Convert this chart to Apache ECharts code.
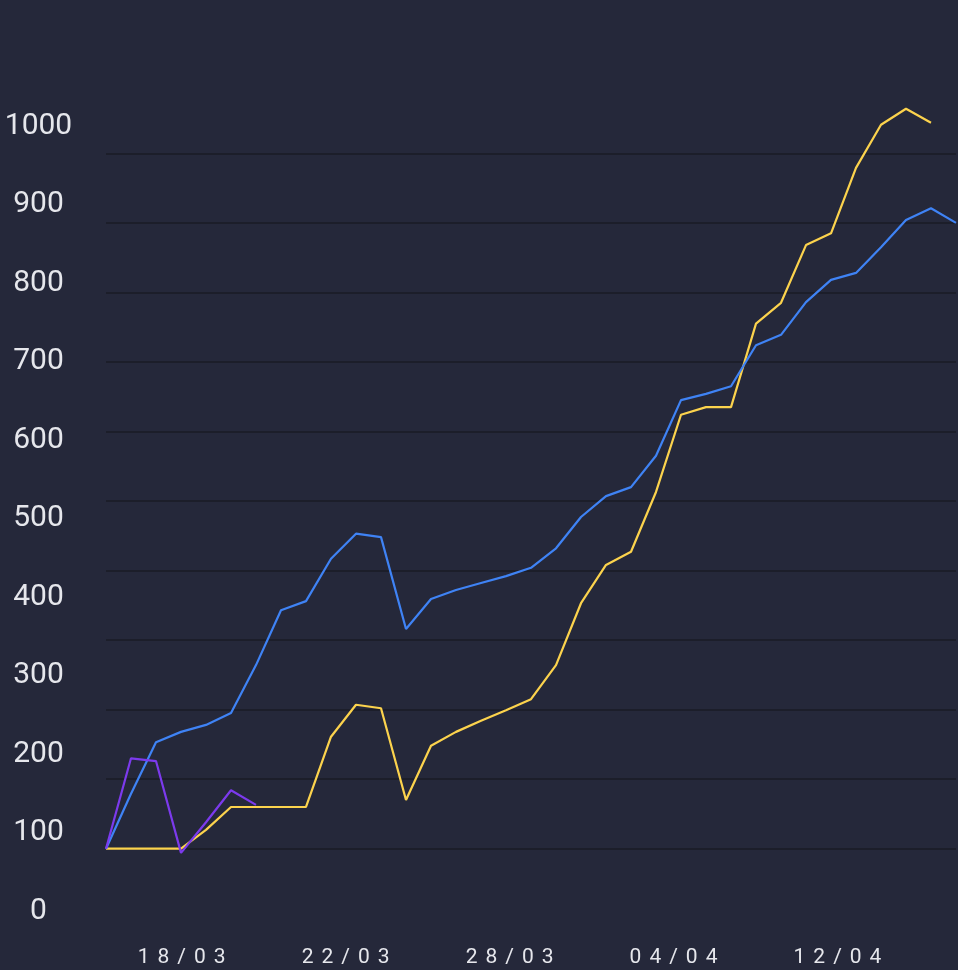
<!DOCTYPE html>
<html>
<head>
<meta charset="utf-8">
<script src="https://cdn.jsdelivr.net/npm/echarts@6/dist/echarts.min.js"></script>
<style>
  html, body { margin: 0; padding: 0; background: #25283a; }
  #chart { width: 958px; height: 970px; }
</style>
</head>
<body>
<div id="chart"></div>
<script>
// ---- data ----
const dateLabels = ['18/03', '22/03', '28/03', '04/04', '12/04'];
const pointIndex = ['p1','p2','p3','p4','p5','p6','p7','p8','p9','p10','p11','p12','p13','p14','p15','p16','p17','p18','p19','p20','p21','p22','p23','p24','p25','p26','p27','p28','p29','p30','p31','p32','p33','p34','p35'];
const blueValues = [0, 79, 153, 168, 178, 195, 264, 343, 356, 417, 453, 448, 316, 359, 372, 382, 392, 404, 432, 477, 507, 520, 565, 645, 654, 665, 724, 739, 786, 818, 828, 865, 904, 921, 900];
const yellowValues = [0, 0, 0, 0, 27, 60, 60, 60, 60, 161, 207, 202, 70, 148, 168, 184, 199, 215, 264, 353, 408, 427, 513, 624, 635, 635, 755, 785, 868, 885, 979, 1041, 1064, 1044, null];
const purpleValues = [0, 130, 126, -6, 38, 84, 63];
const yMin = 0, yMax = 1000, yStep = 100;

// letter-spaced date labels (like CSS letter-spacing), text stays unchanged
const dateLetterSpacing = 8;
(function () {
  const proto = CanvasRenderingContext2D.prototype;
  const origFill = proto.fillText;
  proto.fillText = function (t, x, y, w) {
    if (dateLabels.indexOf(t) >= 0 && 'letterSpacing' in this) {
      const prev = this.letterSpacing;
      this.letterSpacing = dateLetterSpacing + 'px';
      const dx = this.textAlign === 'center' ? dateLetterSpacing / 2 : 0;
      const r = w === undefined ? origFill.call(this, t, x + dx, y) : origFill.call(this, t, x + dx, y, w);
      this.letterSpacing = prev;
      return r;
    }
    return origFill.apply(this, arguments);
  };
})();

const textColor = '#e6e7ec';
const chart = echarts.init(document.getElementById('chart'), null, { renderer: 'canvas' });

chart.setOption({
  backgroundColor: '#25283a',
  animation: false,
  grid: [
    { left: 106, width: 850, top: 153.3, height: 695.4, outerBoundsMode: 'none', containLabel: false },
    { left: 99.7, width: 819.75, top: 126, height: 785, outerBoundsMode: 'none', containLabel: false }
  ],
  xAxis: [
    {
      gridIndex: 0, type: 'category', data: pointIndex, boundaryGap: false,
      axisLine: { show: false }, axisTick: { show: false }, axisLabel: { show: false }, splitLine: { show: false }
    },
    {
      gridIndex: 1, type: 'category', data: dateLabels, boundaryGap: true,
      axisLine: { show: false }, axisTick: { show: false }, splitLine: { show: false },
      axisLabel: {
        show: true, interval: 0, margin: 46.5, verticalAlign: 'middle', align: 'center',
        color: textColor, fontSize: 21, fontFamily: 'Roboto', hideOverlap: false
      }
    }
  ],
  yAxis: [
    {
      gridIndex: 0, type: 'value', min: yMin, max: yMax, interval: yStep,
      axisLine: { show: false }, axisTick: { show: false }, axisLabel: { show: false },
      splitLine: { show: true, lineStyle: { color: '#1c1e2a', width: 2 } }
    },
    {
      gridIndex: 1, type: 'value', min: yMin, max: yMax, interval: yStep,
      axisLine: { show: false }, axisTick: { show: false }, splitLine: { show: false },
      axisLabel: {
        show: true, margin: 61.2, align: 'center', verticalAlign: 'middle',
        color: textColor, fontSize: 30, fontFamily: 'Roboto', hideOverlap: false,
        formatter: function (v) { return String(v); }
      }
    }
  ],
  series: [
    {
      type: 'line', xAxisIndex: 0, yAxisIndex: 0, data: yellowValues, clip: false,
      symbol: 'none', lineStyle: { color: '#fcd34d', width: 2.2 }, itemStyle: { color: '#fcd34d' }
    },
    {
      type: 'line', xAxisIndex: 0, yAxisIndex: 0, data: blueValues, clip: false,
      symbol: 'none', lineStyle: { color: '#3f83f5', width: 2.2 }, itemStyle: { color: '#3f83f5' }
    },
    {
      type: 'line', xAxisIndex: 0, yAxisIndex: 0, data: purpleValues, clip: false,
      symbol: 'none', lineStyle: { color: '#7c3aed', width: 2.2 }, itemStyle: { color: '#7c3aed' }
    }
  ]
});
</script>
</body>
</html>
